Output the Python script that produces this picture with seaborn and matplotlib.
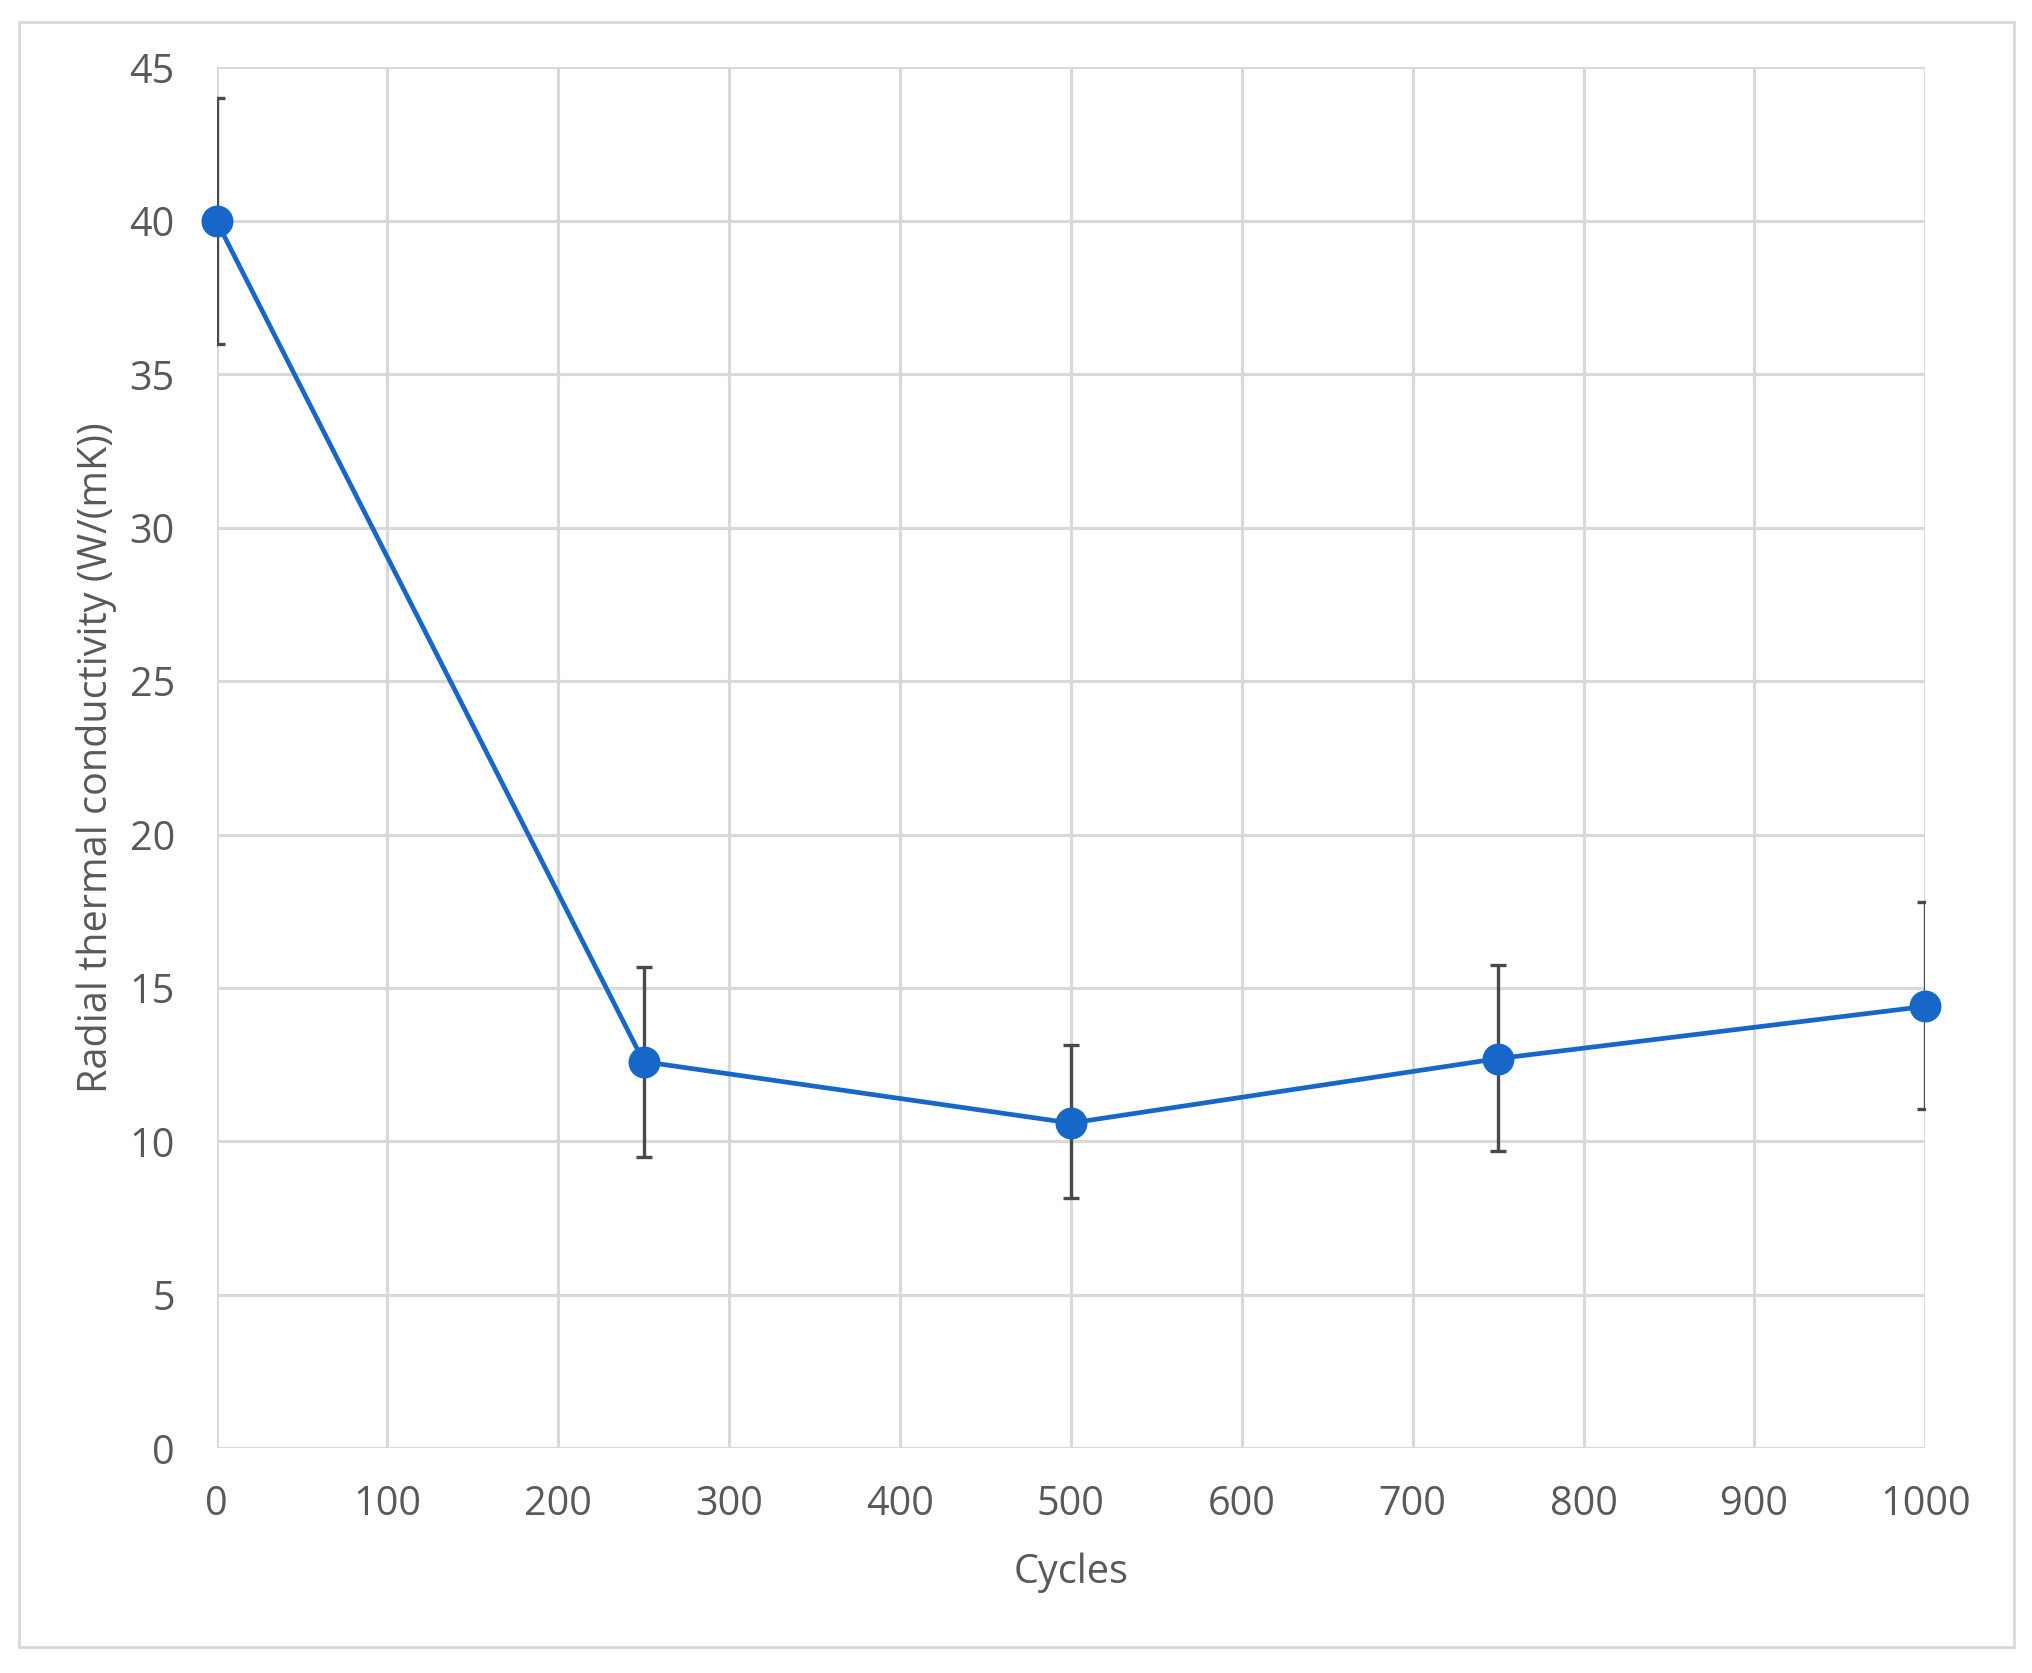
import matplotlib
matplotlib.use("Agg")
import matplotlib.pyplot as plt
import seaborn as sns
import pandas as pd
from matplotlib.patches import Rectangle

# --------------------------------------------------
# Data
# --------------------------------------------------

cycles = [0, 250, 500, 750, 1000]
conductivity = [40.0, 12.6, 10.6, 12.7, 14.4]
err_low = [4.0, 3.1, 2.45, 3.0, 3.35]
err_high = [4.0, 3.1, 2.55, 3.05, 3.4]

x_ticks = [0, 100, 200, 300, 400, 500, 600, 700, 800, 900, 1000]
y_ticks = [0, 5, 10, 15, 20, 25, 30, 35, 40, 45]

df = pd.DataFrame({"Cycles": cycles, "k": conductivity})

sns.set_style("white")
plt.rcParams["font.family"] = ["Open Sans", "DejaVu Sans"]

text_color = "#595959"
grid_color = "#d9d9d9"
line_color = "#1767c9"
font_size = 28.5

fig = plt.figure(figsize=(20.33, 16.73), dpi=100)
ax = fig.add_axes([0.1065, 0.1343, 0.8405, 0.8254])

# outer chart border
fig.patches.append(
    Rectangle(
        (19 / 2033, 1 - 1647 / 1673),
        (2014 - 19) / 2033,
        (1647 - 22) / 1673,
        transform=fig.transFigure,
        fill=False,
        edgecolor="#d9d9d9",
        linewidth=2.0
    )
)

ax.errorbar(
    cycles,
    conductivity,
    yerr=[err_low, err_high],
    fmt="none",
    ecolor="#4a4a4a",
    elinewidth=2.4,
    capsize=6,
    capthick=2.4,
    zorder=3
)

sns.lineplot(
    data=df,
    x="Cycles",
    y="k",
    ax=ax,
    color=line_color,
    linewidth=3.4,
    marker="o",
    markersize=23,
    markeredgewidth=0,
    markerfacecolor=line_color,
    clip_on=False,
    zorder=4
)

ax.set_xlim(0, 1000)
ax.set_ylim(0, 45)
ax.set_xticks(x_ticks)
ax.set_yticks(y_ticks)

ax.grid(True, color=grid_color, linewidth=2.2)
ax.set_axisbelow(True)
for spine in ax.spines.values():
    spine.set_visible(False)

ax.tick_params(
    axis="both",
    length=0,
    labelsize=font_size,
    labelcolor=text_color
)
ax.tick_params(axis="x", pad=26)
ax.tick_params(axis="y", pad=30)

ax.set_xlabel("Cycles", fontsize=font_size, color=text_color, labelpad=20)
ax.set_ylabel(
    "Radial thermal conductivity (W/(mK))",
    fontsize=font_size,
    color=text_color,
    labelpad=9
)

fig.savefig("out.png", dpi=100)
